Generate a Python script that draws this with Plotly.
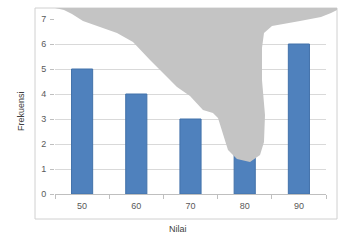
import plotly.graph_objects as go

categories = ["50", "60", "70", "80", "90"]
frekuensi = [5, 4, 3, 2, 6]
y_ticks = [0, 1, 2, 3, 4, 5, 6, 7]

W, H = 348, 247
L, R, T, B = 55, 326, 19, 194  # plot area in pixels


def px(x):
    return (x - L) / (R - L)


def py(y):
    return (B - y) / (B - T)


fig = go.Figure()
fig.add_trace(go.Bar(
    x=categories, y=frekuensi,
    marker=dict(color="#4f81bd", line=dict(color="#4372aa", width=1)),
))

# outer chart border
border = dict(type="rect", xref="paper", yref="paper",
              x0=px(35), x1=px(337), y0=py(219), y1=py(8),
              line=dict(color="#d0d0d0", width=1), layer="below")

blob_pts = [(55, 8), (64, 10), (72, 14), (83, 21), (100, 27), (117, 33), (133, 42),
            (150, 60), (177, 87), (190, 96), (203, 110), (213, 113), (218, 118),
            (223, 134), (228, 150), (237, 159), (250, 162), (260, 155), (264, 142),
            (265, 115), (262, 80), (262, 48), (264, 33), (272, 26), (300, 21),
            (321, 17), (331, 13), (337, 10), (337, 8)]
path = "M " + " L ".join(f"{px(x):.4f},{py(y):.4f}" for x, y in blob_pts) + " Z"
blob = dict(type="path", xref="paper", yref="paper", path=path,
            fillcolor="#c4c4c4", line=dict(width=0), layer="above")

fig.update_layout(
    width=W, height=H,
    margin=dict(l=L, r=W - R, t=T, b=H - B, pad=0),
    paper_bgcolor="white", plot_bgcolor="white",
    showlegend=False,
    bargap=0.61,
    font=dict(family="Liberation Sans, Arial", size=9, color="#595959"),
    xaxis=dict(showgrid=False, showline=True, linecolor="#bfbfbf", linewidth=1,
               ticks="outside", tickson="boundaries", ticklen=4, tickcolor="#bfbfbf",
               ticklabelstandoff=3,
               tickfont=dict(size=9, color="#595959")),
    yaxis=dict(range=[0, 7], tickvals=y_ticks, showgrid=True, gridcolor="#d9d9d9",
               gridwidth=1, zeroline=False, showline=False,
               ticks="outside", ticklen=4, tickcolor="#bfbfbf",
               ticklabelstandoff=2,
               tickfont=dict(size=9, color="#595959")),
    shapes=[border, blob],
    annotations=[
        dict(text="Frekuensi", xref="paper", yref="paper", x=px(14), y=py(111),
             showarrow=False, textangle=-90, font=dict(size=9, color="#404040")),
        dict(text="Nilai", xref="paper", yref="paper", x=px(178), y=py(236),
             showarrow=False, font=dict(size=9, color="#404040")),
    ],
)

fig.write_html("out.html")
